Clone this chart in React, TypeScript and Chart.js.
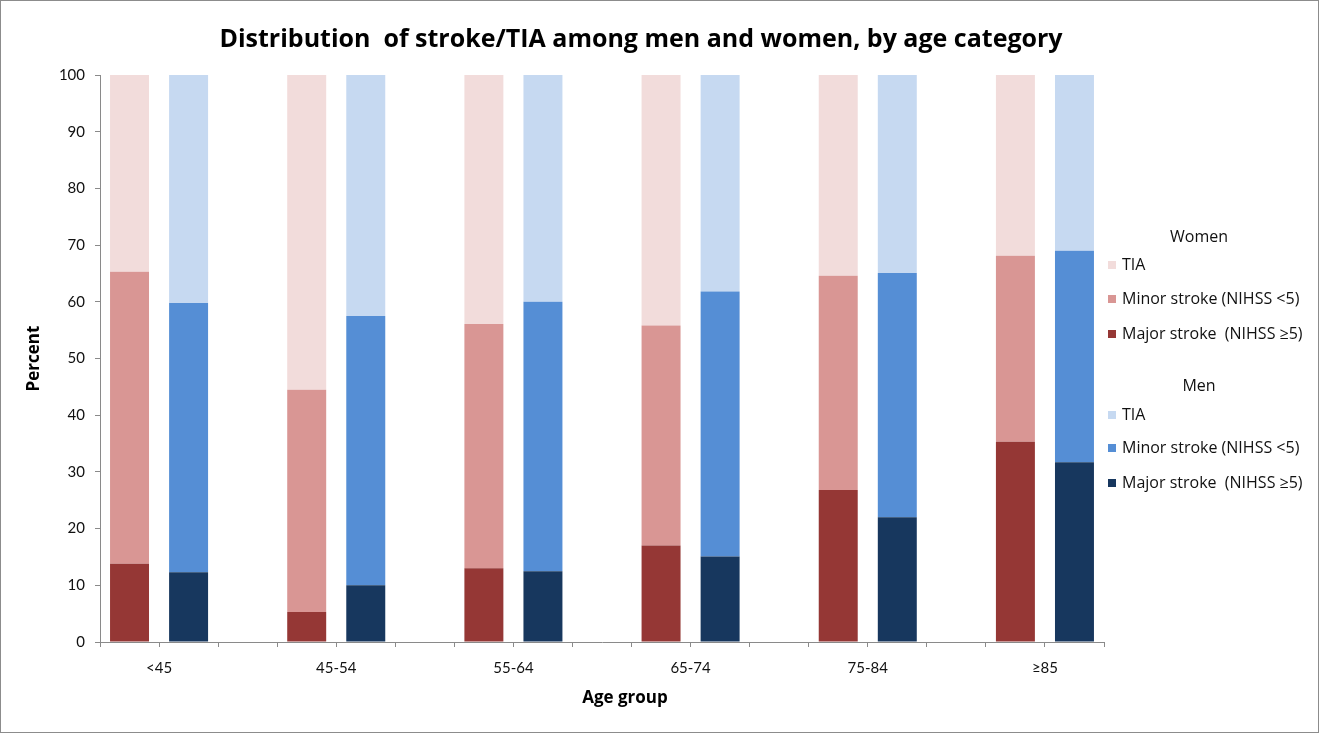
import React, { useEffect, useRef } from "react";
import { Chart, registerables } from "chart.js";

Chart.register(...registerables);

const ageGroups = ["<45", "45-54", "55-64", "65-74", "75-84", "≥85"];
const groupHeaders = ["Women", "Men"];
const seriesNames = ["TIA", "Minor stroke (NIHSS <5)", "Major stroke  (NIHSS ≥5)"];

const womenMajor = [13.8, 5.3, 13.0, 17.0, 26.8, 35.3];
const womenMinor = [51.5, 39.2, 43.1, 38.8, 37.8, 32.8];
const womenTIA = [34.7, 55.5, 43.9, 44.2, 35.4, 31.9];

const menMajor = [12.3, 10.0, 12.5, 15.1, 22.0, 31.7];
const menMinor = [47.5, 47.5, 47.5, 46.7, 43.1, 37.3];
const menTIA = [40.2, 42.5, 40.0, 38.2, 34.9, 31.0];

const yTicksMax = 100;
const yTickStep = 10;

const COLORS = {
  womenTIA: "#F2DCDB",
  womenMinor: "#D99694",
  womenMajor: "#953735",
  menTIA: "#C6D9F1",
  menMinor: "#558ED5",
  menMajor: "#17375E",
};

const FONT = 'Lato, "Open Sans", "Liberation Sans", sans-serif';
const FONT_WIDE = '"Open Sans", Lato, "Liberation Sans", sans-serif';
const TEXT = "#111";
const AXIS = "#8a8a8a";

// slots: women, men, gap for each group (no gap after the last)
const slotCount = ageGroups.length * 3 - 1;
const slotLabels: string[] = [];
ageGroups.forEach((g, i) => {
  slotLabels.push(g + " Women");
  slotLabels.push(g + " Men");
  if (i < ageGroups.length - 1) slotLabels.push("");
});

function spread(values: number[], offset: number): (number | null)[] {
  const out: (number | null)[] = new Array(slotCount).fill(null);
  values.forEach((v, i) => {
    out[i * 3 + offset] = v;
  });
  return out;
}

const legendPlugin = {
  id: "customTitleLegend",
  afterDraw(chart: any) {
    const ctx = chart.ctx as CanvasRenderingContext2D;
    const area = chart.chartArea;
    ctx.save();
    // title
    ctx.fillStyle = "#000";
    ctx.font = `bold 25px ${FONT_WIDE}`;
    ctx.textAlign = "center";
    ctx.textBaseline = "middle";
    ctx.fillText("Distribution  of stroke/TIA among men and women, by age category", 640, 39);

    // x axis title
    ctx.font = `bold 17px ${FONT_WIDE}`;
    ctx.fillText("Age group", 624, 697);

    // legend
    const boxX = area.right + 4;
    const textX = area.right + 18;
    const groups = [
      { header: groupHeaders[0], headerY: 236, ys: [264, 298, 333], colors: [COLORS.womenTIA, COLORS.womenMinor, COLORS.womenMajor] },
      { header: groupHeaders[1], headerY: 385, ys: [414, 447, 482], colors: [COLORS.menTIA, COLORS.menMinor, COLORS.menMajor] },
    ];
    ctx.font = `16px ${FONT_WIDE}`;
    groups.forEach((g) => {
      ctx.textAlign = "center";
      ctx.fillStyle = TEXT;
      ctx.fillText(g.header, 1198, g.headerY);
      g.ys.forEach((y, i) => {
        ctx.fillStyle = g.colors[i];
        ctx.fillRect(boxX, y - 4, 8, 8);
        ctx.fillStyle = TEXT;
        ctx.textAlign = "left";
        ctx.fillText(seriesNames[i], textX, y);
      });
    });
    ctx.restore();
  },
};

export default function App() {
  const ref = useRef<HTMLCanvasElement | null>(null);

  useEffect(() => {
    document.body.style.margin = "0";
    document.body.style.background = "#fff";
    if (!ref.current) return;
    const common = { stack: "s", xAxisID: "x", yAxisID: "y", borderWidth: 0, categoryPercentage: 1, barPercentage: 0.66 };
    const chart = new Chart(ref.current, {
      type: "bar",
      data: {
        labels: slotLabels,
        datasets: [
          { ...common, label: "Women Major stroke", data: spread(womenMajor, 0), backgroundColor: COLORS.womenMajor },
          { ...common, label: "Women Minor stroke", data: spread(womenMinor, 0), backgroundColor: COLORS.womenMinor },
          { ...common, label: "Women TIA", data: spread(womenTIA, 0), backgroundColor: COLORS.womenTIA },
          { ...common, label: "Men Major stroke", data: spread(menMajor, 1), backgroundColor: COLORS.menMajor },
          { ...common, label: "Men Minor stroke", data: spread(menMinor, 1), backgroundColor: COLORS.menMinor },
          { ...common, label: "Men TIA", data: spread(menTIA, 1), backgroundColor: COLORS.menTIA },
        ] as any,
      },
      options: {
        responsive: false,
        animation: false,
        layout: { padding: { left: 0, right: 214, top: 74, bottom: 0 } },
        plugins: {
          legend: { display: false },
          title: { display: false },
          tooltip: { enabled: false },
        },
        font: { family: FONT },
        scales: {
          x: {
            type: "category",
            stacked: true,
            offset: true,
            position: "bottom",
            grid: { display: true, drawOnChartArea: false, drawTicks: true, tickLength: 5, offset: true, color: AXIS },
            border: { display: true, color: AXIS, width: 1 },
            ticks: { display: false },
            afterFit: (s: any) => {
              s.height = 8;
            },
          },
          x2: {
            type: "linear",
            position: "bottom",
            offset: false,
            bounds: "data",
            min: 0,
            max: slotCount,
            grid: { display: false, drawTicks: false, offset: false },
            border: { display: false },
            afterBuildTicks: (s: any) => {
              s.ticks = ageGroups.map((_, i) => ({ value: i * 3 + 1 }));
            },
            ticks: {
              autoSkip: false,
              maxRotation: 0,
              padding: 9,
              color: TEXT,
              font: { family: FONT, size: 15 },
              callback: (_v: any, i: number) => ageGroups[i],
            },
            afterFit: (s: any) => {
              s.height = 82;
            },
          },
          y: {
            stacked: true,
            min: 0,
            max: yTicksMax,
            grid: { display: true, drawOnChartArea: false, drawTicks: true, tickLength: 5, color: AXIS },
            border: { display: true, color: AXIS, width: 1 },
            ticks: {
              stepSize: yTickStep,
              padding: 10,
              color: TEXT,
              font: { family: FONT, size: 15 },
            },
            title: {
              display: true,
              text: "Percent",
              color: "#000",
              font: { family: FONT_WIDE, size: 17, weight: "bold" },
              padding: { top: 23, bottom: 0 },
            },
            afterFit: (s: any) => {
              s.width = 99;
            },
          },
        },
      } as any,
      plugins: [legendPlugin],
    });
    return () => chart.destroy();
  }, []);

  return (
    <div
      style={{
        width: 1319,
        height: 733,
        boxSizing: "border-box",
        border: "1px solid #8c8c8c",
        position: "relative",
        background: "#fff",
      }}
    >
      <canvas ref={ref} width={1317} height={731} style={{ display: "block", width: 1317, height: 731 }} />
    </div>
  );
}
